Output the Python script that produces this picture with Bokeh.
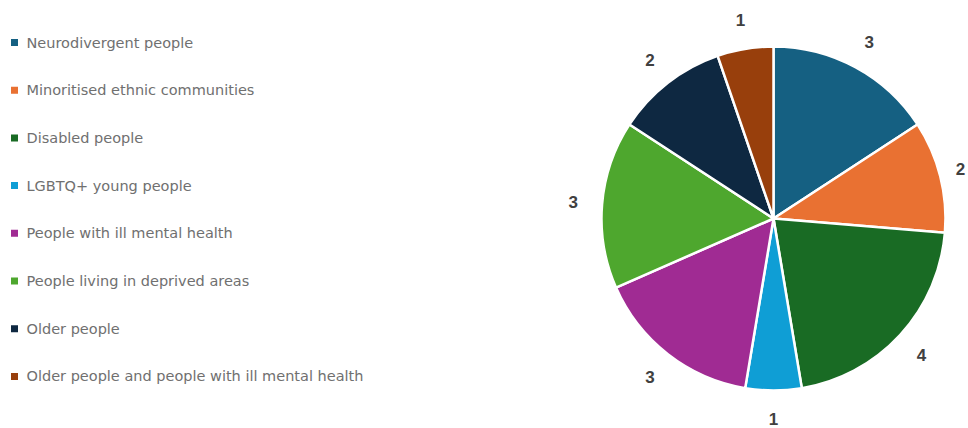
import math
from bokeh.plotting import figure
from bokeh.models import ColumnDataSource, Range1d
from bokeh.core.properties import value
from bokeh.embed import file_html
from bokeh.resources import INLINE

categories = [
    "Neurodivergent people",
    "Minoritised ethnic communities",
    "Disabled people",
    "LGBTQ+ young people",
    "People with ill mental health",
    "People living in deprived areas",
    "Older people",
    "Older people and people with ill mental health",
]
counts = [3, 2, 4, 1, 3, 3, 2, 1]
colors = ["#156082", "#E97132", "#196B24", "#0F9ED5", "#A02B93", "#4EA72E", "#0E2841", "#983F0C"]

W, H = 968, 428
cx, cy, R = 773, H - 218, 172
label_r = 201

total = sum(counts)
starts, ends, lx, ly = [], [], [], []
acc = 0
for c in counts:
    t0 = acc / total * 2 * math.pi
    t1 = (acc + c) / total * 2 * math.pi
    starts.append(math.pi / 2 - t0)
    ends.append(math.pi / 2 - t1)
    tm = (t0 + t1) / 2
    lx.append(min(cx + label_r * math.sin(tm), W - 8))
    ly.append(max(cy + label_r * math.cos(tm), 10))
    acc += c

src = ColumnDataSource(dict(start=starts, end=ends, color=colors,
                            lx=lx, ly=ly, lab=[str(c) for c in counts],
                            cat=categories,
                            legx=[14] * len(categories),
                            textx=[26] * len(categories),
                            legy=[H - (42 + i * 47.7) for i in range(len(categories))]))

p = figure(width=W, height=H, x_range=Range1d(0, W), y_range=Range1d(0, H),
           output_backend="svg", toolbar_location=None, min_border=0)
p.axis.visible = False
p.grid.visible = False
p.outline_line_color = None
p.background_fill_color = "white"

p.wedge(x=cx, y=cy, radius=R, start_angle="start", end_angle="end", direction="clock",
        fill_color="color", line_color="white", line_width=2.5, source=src)

p.text(x="lx", y="ly", text="lab", source=src, text_align="center", text_baseline="middle",
       text_font=value("Liberation Sans"), text_font_size="17px", text_font_style="bold",
       text_color="#404040")

p.scatter(x="legx", y="legy", marker="square", size=7, fill_color="color", line_color=None, source=src)
p.text(x="textx", y="legy", text="cat", source=src, text_align="left", text_baseline="middle",
       text_font=value("DejaVu Sans"), text_font_size="14.5px", text_color="#707070")

open("out.html", "w").write(file_html(p, INLINE))
